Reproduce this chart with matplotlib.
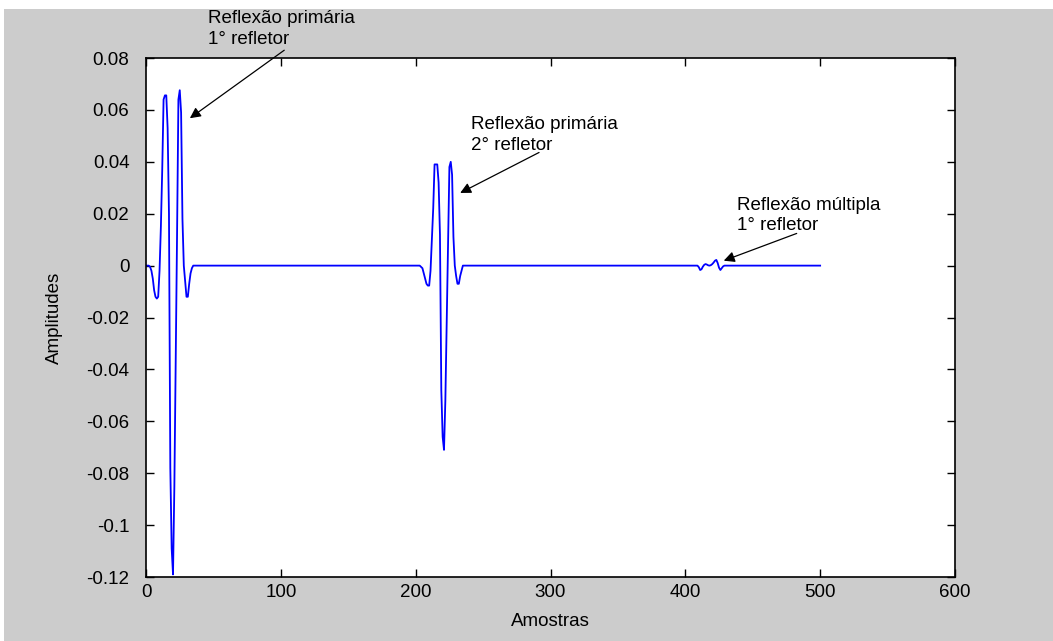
import numpy as np
import matplotlib.pyplot as plt
from matplotlib.patches import Rectangle

plt.rcParams['font.family'] = ['Liberation Sans', 'DejaVu Sans']

# trace: 501 samples, zero except for the three reflection events
n_samples = 501

# primary reflection, 1st reflector (samples 0..35)
ev1_start = 0
ev1 = [0, 0, 0, -0.0005, -0.002, -0.005, -0.0095, -0.012, -0.0127, -0.012,
       -0.002, 0.015, 0.037, 0.064, 0.0656, 0.0656, 0.053, 0.02, -0.078, -0.109,
       -0.119, -0.085, -0.038, 0.012, 0.064, 0.0676, 0.059, 0.018, 0, -0.006,
       -0.012, -0.012, -0.007, -0.003, -0.001, 0]

# primary reflection, 2nd reflector (samples 203..235)
ev2_start = 203
ev2 = [0, -0.0005, -0.001, -0.003, -0.005, -0.007, -0.0077, -0.0077, -0.002, 0.0097,
       0.022, 0.039, 0.039, 0.039, 0.032, 0.012, -0.048, -0.066, -0.071, -0.052,
       -0.022, 0.008, 0.038, 0.040, 0.035, 0.011, 0, -0.004, -0.007, -0.007,
       -0.004, -0.002, 0]

# multiple reflection, 1st reflector (samples 409..429)
ev3_start = 409
ev3 = [0, -0.0006, -0.0017, -0.0014, -0.0004, 0.0003, 0.0006, 0.0004, 0.0001, 0,
       0.0002, 0.0006, 0.0012, 0.0019, 0.0022, 0.001, -0.0008, -0.0017, -0.001, -0.0003, 0]

samples = np.arange(n_samples)
amp = np.zeros(n_samples)
for start, vals in [(ev1_start, ev1), (ev2_start, ev2), (ev3_start, ev3)]:
    amp[start:start + len(vals)] = vals

xticks = [0, 100, 200, 300, 400, 500, 600]
yticks = [-0.12, -0.1, -0.08, -0.06, -0.04, -0.02, 0, 0.02, 0.04, 0.06, 0.08]
ytick_labels = ['-0.12', '-0.1', '-0.08', '-0.06', '-0.04', '-0.02', '0',
                '0.02', '0.04', '0.06', '0.08']

fig = plt.figure(figsize=(10.53, 6.41), dpi=100, facecolor='white')
# grey window background with a thin white margin top/left
fig.patches.append(Rectangle((4 / 1053, 0), 1, 1 - 9 / 641, transform=fig.transFigure,
                             facecolor='#cccccc', edgecolor='none', zorder=-10))
ax = fig.add_axes([0.1387, 0.0998, 0.7682, 0.8097])
ax.set_facecolor('white')

ax.plot(samples, amp, color='#0000ff', lw=1.3)

ax.set_xlim(0, 600)
ax.set_ylim(-0.12, 0.08)
ax.set_xticks(xticks)
ax.set_yticks(yticks)
ax.set_yticklabels(ytick_labels)
ax.tick_params(direction='in', length=6, width=1, top=True, right=True,
               labelsize=13.5, color='black')
ax.tick_params(axis='y', pad=12)
ax.tick_params(axis='x', pad=5)
for sp in ax.spines.values():
    sp.set_linewidth(1.2)

ax.set_xlabel('Amostras', fontsize=13.5, labelpad=9)
ax.set_ylabel('Amplitudes', fontsize=13.5, labelpad=17)

arrow = dict(arrowstyle='-|>', color='black', lw=0.9, mutation_scale=16,
             shrinkA=0, shrinkB=0)

# annotations: text block, arrow tail, arrow head (data coords)
ax.text(45.6, 0.0985, 'Reflexão primária\n1° refletor', fontsize=13.5,
        va='top', ha='left', linespacing=1.3, clip_on=False)
ax.annotate('', xy=(32.5, 0.0568), xytext=(102.5, 0.083), arrowprops=arrow,
            annotation_clip=False)

ax.text(241, 0.0575, 'Reflexão primária\n2° refletor', fontsize=13.5,
        va='top', ha='left', linespacing=1.3)
ax.annotate('', xy=(233, 0.028), xytext=(291.5, 0.0436), arrowprops=arrow)

ax.text(438, 0.0266, 'Reflexão múltipla\n1° refletor', fontsize=13.5,
        va='top', ha='left', linespacing=1.3)
ax.annotate('', xy=(428.5, 0.0019), xytext=(482.6, 0.0124), arrowprops=arrow)

fig.savefig('out.png', dpi=100, facecolor=fig.get_facecolor())
